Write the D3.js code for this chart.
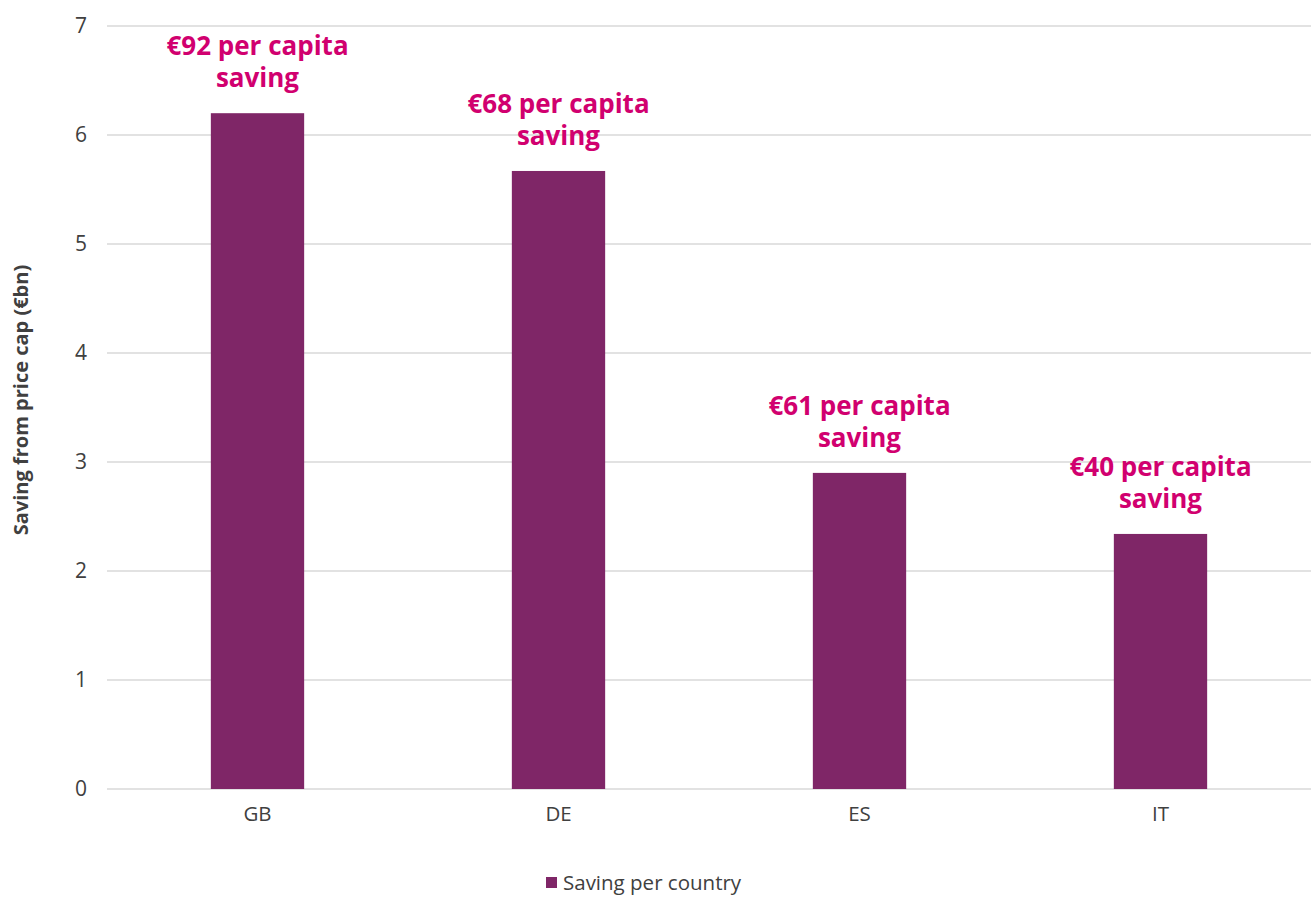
<!DOCTYPE html>
<html>
<head>
<meta charset="utf-8">
<script src="https://cdn.jsdelivr.net/npm/d3@7"></script>
<style>
  body { margin: 0; background: #fff; }
  svg text { font-family: "Open Sans", "Noto Sans", sans-serif; }
</style>
</head>
<body>
<div id="chart"></div>
<script>
// chart data
var countries = ["GB", "DE", "ES", "IT"];
var savings = [6.2, 5.67, 2.9, 2.34];
var perCapita = ["€92", "€68", "€61", "€40"];
var yTicks = [0, 1, 2, 3, 4, 5, 6, 7];
var seriesName = "Saving per country";
var yTitle = "Saving from price cap (€bn)";

var width = 1312, height = 897;
var margin = { top: 26, right: 1, bottom: 108, left: 107 };

var svg = d3.select("#chart").append("svg")
    .attr("width", width)
    .attr("height", height);

var g = svg.append("g")
    .attr("transform", "translate(" + margin.left + "," + margin.top + ")");

var w = width - margin.left - margin.right,
    h = height - margin.top - margin.bottom;

// scales
var x = d3.scaleBand()
    .domain(countries)
    .range([0, w])
    .paddingInner(0.69)
    .paddingOuter(0.345);

var y = d3.scaleLinear()
    .domain([0, 7])
    .range([h, 0]);

// gridlines
g.selectAll("line.grid")
    .data(yTicks)
    .enter()
    .append("line")
    .attr("class", "grid")
    .attr("x1", 0)
    .attr("x2", w)
    .attr("y1", function(d) { return y(d); })
    .attr("y2", function(d) { return y(d); })
    .attr("stroke", "#d9d9d9")
    .attr("stroke-width", 1.5);

// y axis labels
var yAxis = g.append("g")
    .call(d3.axisLeft(y).tickValues(yTicks).tickSize(0).tickPadding(20).tickFormat(d3.format("d")));
yAxis.select(".domain").remove();
yAxis.selectAll("text")
    .attr("fill", "#404040")
    .style("font-size", "21px");

// x axis labels
var xAxis = g.append("g")
    .attr("transform", "translate(0," + h + ")")
    .call(d3.axisBottom(x).tickSize(0).tickPadding(17));
xAxis.select(".domain").remove();
xAxis.selectAll("text")
    .attr("fill", "#404040")
    .style("font-size", "20.5px");

// bars
var data = countries.map(function(c, i) {
    return { country: c, value: savings[i], label: perCapita[i] };
});

g.selectAll("rect.bar")
    .data(data)
    .enter()
    .append("rect")
    .attr("class", "bar")
    .attr("x", function(d) { return x(d.country); })
    .attr("y", function(d) { return y(d.value); })
    .attr("width", x.bandwidth())
    .attr("height", function(d) { return h - y(d.value); })
    .attr("fill", "#7f2667");

// per capita annotations
var notes = g.selectAll("text.note")
    .data(data)
    .enter()
    .append("text")
    .attr("class", "note")
    .attr("text-anchor", "middle")
    .attr("fill", "#d1006f")
    .style("font-size", "26px")
    .style("font-weight", "bold");

notes.append("tspan")
    .attr("x", function(d) { return x(d.country) + x.bandwidth() / 2; })
    .attr("y", function(d) { return y(d.value) - 58; })
    .text(function(d) { return d.label + " per capita"; });

notes.append("tspan")
    .attr("x", function(d) { return x(d.country) + x.bandwidth() / 2; })
    .attr("y", function(d) { return y(d.value) - 26; })
    .text("saving");

// y axis title
svg.append("text")
    .attr("transform", "translate(28,400) rotate(-90)")
    .attr("text-anchor", "middle")
    .attr("fill", "#404040")
    .style("font-size", "20px")
    .style("font-weight", "bold")
    .text(yTitle);

// legend
var legend = svg.append("g")
    .attr("transform", "translate(546,877)");
legend.append("rect")
    .attr("width", 11)
    .attr("height", 11)
    .attr("fill", "#7f2667");
legend.append("text")
    .attr("x", 17)
    .attr("y", 13)
    .attr("fill", "#404040")
    .style("font-size", "20.5px")
    .text(seriesName);
</script>
</body>
</html>
